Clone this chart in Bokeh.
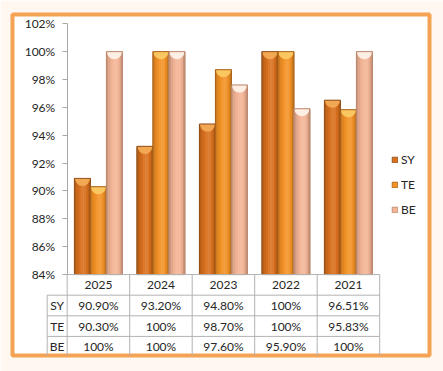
from bokeh.plotting import figure
from bokeh.models import FixedTicker, PrintfTickFormatter, Legend, LegendItem, ColumnDataSource
from bokeh.core.properties import value
from bokeh.embed import file_html
from bokeh.resources import INLINE
import math

# ---- data ----
years = ["2025", "2024", "2023", "2022", "2021"]
series_names = ["SY", "TE", "BE"]
sy_values = [90.90, 93.20, 94.80, 100.0, 96.51]
te_values = [90.30, 100.0, 98.70, 100.0, 95.83]
be_values = [100.0, 100.0, 97.60, 95.90, 100.0]
y_ticks = [84, 86, 88, 90, 92, 94, 96, 98, 100, 102]

# ---- style ----
FONT = "Lato"
FS = "12px"
TXT = "#262626"
GRID = "#B2B2B2"
base_colors = {"SY": "#D9701E", "TE": "#F39226", "BE": "#F4B596"}
edge_colors = {"SY": "#8E4C18", "TE": "#A65E18", "BE": "#B98468"}
cap_colors = {"SY": "#F3AB55", "TE": "#FBC964", "BE": "#FEF1E8"}
profile = [0.84, 0.92, 0.98, 1.03, 1.06, 1.04, 0.96, 0.82]


def shade(hexc, f):
    r, g, b = (int(hexc[i:i + 2], 16) for i in (1, 3, 5))
    if f >= 1:
        t = min(1.0, (f - 1) * 2.2)
        r, g, b = (int(c + (255 - c) * t) for c in (r, g, b))
    else:
        r, g, b = (int(c * f) for c in (r, g, b))
    return "#%02x%02x%02x" % (r, g, b)


BASE = y_ticks[0]
row_h = 1.48
n = len(years)

p = figure(width=443, height=371, output_backend="svg", toolbar_location=None,
           x_range=(-0.875, 5.797), y_range=(78.19, 102.668),
           x_axis_location=None,
           min_border_left=12, min_border_right=14, min_border_top=14, min_border_bottom=16,
           background_fill_color="white", border_fill_color="#FFF7F0",
           outline_line_color="#F4A254", outline_line_width=4)
p.grid.visible = False

# y axis placed at the start of the category area
ax = p.yaxis[0]
ax.fixed_location = 0
ax.bounds = (y_ticks[0], y_ticks[-1])
ax.ticker = FixedTicker(ticks=y_ticks)
ax.formatter = PrintfTickFormatter(format="%d%%")
ax.axis_line_color = "#A8A8A8"
ax.major_tick_line_color = "#A8A8A8"
ax.major_tick_out = 5
ax.major_tick_in = 0
ax.minor_tick_line_color = None
ax.major_label_text_font = FONT
ax.major_label_text_font_size = FS
ax.major_label_text_color = TXT
ax.major_label_standoff = 7

# ---- bars ----
bw = 0.256
offsets = [-bw, 0.0, bw]
all_vals = [sy_values, te_values, be_values]
legend_items = []
for s, name in enumerate(series_names):
    vals = all_vals[s]
    xs = [i + 0.5 + offsets[s] for i in range(n)]
    src = ColumnDataSource(dict(x=xs, top=vals))
    base = p.vbar(x="x", top="top", bottom=BASE, width=bw, source=src,
                  fill_color=base_colors[name], line_color=edge_colors[name], line_width=0.8)
    legend_items.append(LegendItem(label=name, renderers=[base]))
    k = len(profile)
    for j, f in enumerate(profile):
        sx = [x - bw / 2 + (j + 0.5) * bw / k for x in xs]
        p.vbar(x=sx, top=vals, bottom=BASE, width=bw / k * 1.02,
               fill_color=shade(base_colors[name], f), line_color=None)
    p.wedge(x=xs, y=vals, radius=7.5, radius_units="screen",
            start_angle=math.pi, end_angle=2 * math.pi,
            fill_color=cap_colors[name], fill_alpha=0.95, line_color=None)
    p.vbar(x=xs, top=vals, bottom=BASE, width=bw, fill_color=None,
           line_color=edge_colors[name], line_width=0.8)

# ---- data table below the plot ----
label_col = -0.32
bottom = BASE - 4 * row_h - 0.3
hx0 = [0.0] + [label_col] * 3
hy = [BASE - r * row_h for r in range(4)]
p.segment(x0=hx0, y0=hy, x1=[float(n)] * 4, y1=hy, line_color=GRID, line_width=1)
vx = [float(i) for i in range(n + 1)] + [label_col]
vy0 = [BASE] * (n + 1) + [BASE - row_h]
p.segment(x0=vx, y0=vy0, x1=vx, y1=[bottom] * (n + 2), line_color=GRID, line_width=1)


def fmt(v):
    return "100%" if v == 100 else f"{v:.2f}%"


tx, ty, tt = [], [], []
for i, yr in enumerate(years):
    tx.append(i + 0.5); ty.append(BASE - row_h / 2); tt.append(yr)
for r, name in enumerate(series_names):
    yc = BASE - (r + 1.5) * row_h
    tx.append(label_col / 2); ty.append(yc); tt.append(name)
    for i, v in enumerate(all_vals[r]):
        tx.append(i + 0.5); ty.append(yc); tt.append(fmt(v))
p.text(x=tx, y=ty, text=tt, text_font=value(FONT), text_font_size=FS,
       text_align="center", text_baseline="middle", text_color=TXT)

# ---- legend ----
legend = Legend(items=legend_items, location=(379, 138), orientation="vertical",
                label_text_font=FONT, label_text_font_size=FS, label_text_color=TXT,
                glyph_width=7, glyph_height=7, label_height=14, spacing=10,
                label_standoff=3, padding=0, margin=0,
                border_line_color=None, background_fill_alpha=0)
p.add_layout(legend)

open("out.html", "w").write(file_html(p, INLINE))
